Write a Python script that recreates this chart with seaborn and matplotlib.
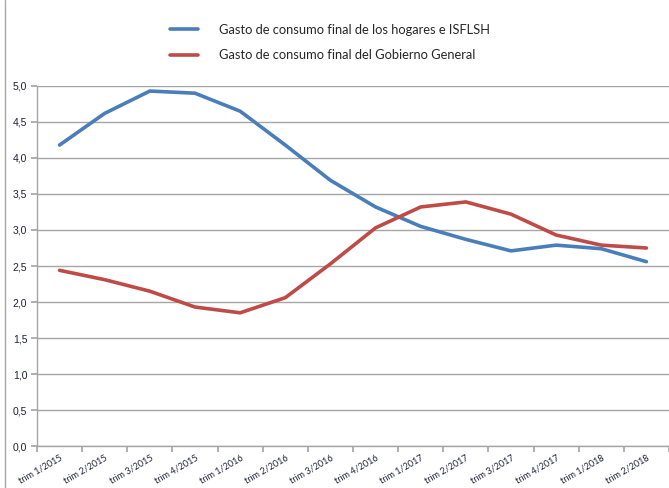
import pandas as pd
import seaborn as sns
import matplotlib.pyplot as plt
from matplotlib.lines import Line2D

# Quarterly data
quarters = ["trim 1/2015", "trim 2/2015", "trim 3/2015", "trim 4/2015",
            "trim 1/2016", "trim 2/2016", "trim 3/2016", "trim 4/2016",
            "trim 1/2017", "trim 2/2017", "trim 3/2017", "trim 4/2017",
            "trim 1/2018", "trim 2/2018"]
hogares = [4.18, 4.62, 4.93, 4.90, 4.65, 4.18, 3.69, 3.32,
           3.05, 2.87, 2.71, 2.79, 2.74, 2.56]
gobierno = [2.44, 2.31, 2.15, 1.93, 1.85, 2.06, 2.53, 3.03,
            3.32, 3.39, 3.22, 2.93, 2.79, 2.75]
series_names = ["Gasto de consumo final de los hogares e ISFLSH",
                "Gasto de consumo final del Gobierno General"]
colors = ["#4a7ebb", "#be4b48"]

df = pd.DataFrame({"trimestre": quarters * 2,
                   "valor": hogares + gobierno,
                   "serie": [series_names[0]] * len(quarters) + [series_names[1]] * len(quarters)})
df["pos"] = list(range(len(quarters))) * 2

sns.set_theme(style="white")
plt.rcParams["font.family"] = ["Lato", "DejaVu Sans"]

fig = plt.figure(figsize=(6.69, 4.88), dpi=100)
ax = fig.add_axes([37 / 669, 42 / 488, 1 - 37 / 669, (446 - 86) / 488])

sns.lineplot(data=df, x="pos", y="valor", hue="serie", palette=colors,
             linewidth=2.6, ax=ax, legend=False, sort=False)

# Axes styling (Excel look)
ax.set_xlim(-0.5, 13.27)
ax.set_ylim(0, 5)
ax.set_yticks([i * 0.5 for i in range(11)])
ax.set_yticklabels([f"{i * 0.5:.1f}".replace(".", ",") for i in range(11)],
                   fontsize=7.5, color="#1f1f3a", family=["Liberation Sans"])
ax.yaxis.grid(True, color="#a6a6a6", linewidth=1)
ax.set_axisbelow(True)
ax.set_xlabel("")
ax.set_ylabel("")
for side in ["top", "right"]:
    ax.spines[side].set_visible(False)
for side in ["left", "bottom"]:
    ax.spines[side].set_color("#a6a6a6")
    ax.spines[side].set_linewidth(1)

# Tick marks between categories, labels at category centers
ax.set_xticks([i - 0.5 for i in range(len(quarters) + 1)])
ax.set_xticklabels([])
ax.set_xticks(range(len(quarters)), minor=True)
ax.set_xticklabels(quarters, minor=True, rotation=30, ha="right",
                   rotation_mode="anchor", fontsize=6.5, color="#1f1f3a")
ax.tick_params(axis="x", which="major", length=4, color="#a6a6a6", bottom=True)
ax.tick_params(axis="x", which="minor", length=0, pad=5)
ax.tick_params(axis="y", length=4, color="#a6a6a6", left=True, pad=3)

# Legend at top
handles = [Line2D([0], [0], color=c, linewidth=2.6) for c in colors]
fig.legend(handles, series_names, loc="upper left", bbox_to_anchor=(158 / 669, 1 - 12 / 488),
           frameon=False, fontsize=9.3, handlelength=2.2, handletextpad=1.6,
           labelspacing=1.05)

# Chart border on the left
fig.add_artist(Line2D([5 / 669, 5 / 669], [0, 1], color="#a6a6a6", linewidth=1))

fig.savefig("out.png", dpi=100)
plt.close(fig)
